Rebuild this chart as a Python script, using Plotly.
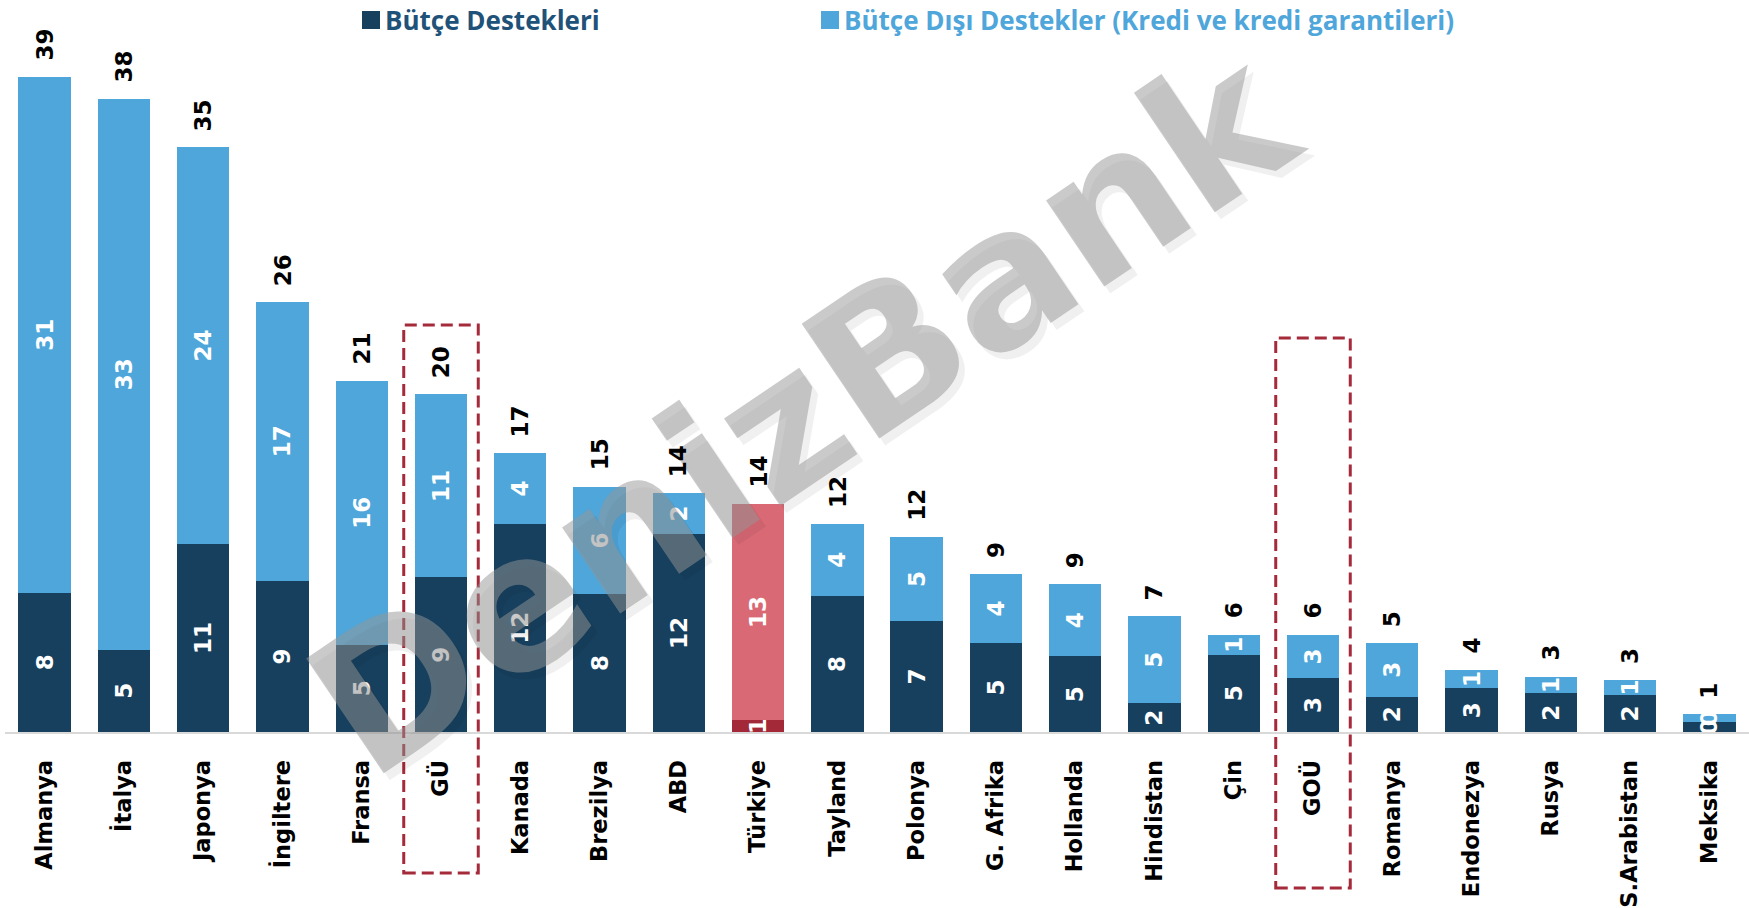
import math
import plotly.graph_objects as go

categories = ["Almanya", "İtalya", "Japonya", "İngiltere", "Fransa", "GÜ", "Kanada", "Brezilya",
              "ABD", "Türkiye", "Tayland", "Polonya", "G. Afrika", "Hollanda", "Hindistan", "Çin",
              "GOÜ", "Romanya", "Endonezya", "Rusya", "S.Arabistan", "Meksika"]
butce = [8.3, 4.9, 11.2, 9.0, 5.2, 9.2, 12.4, 8.2, 11.8, 0.7, 8.1, 6.6, 5.3, 4.5, 1.7, 4.6,
         3.2, 2.1, 2.6, 2.3, 2.2, 0.6]
butce_disi = [30.7, 32.8, 23.6, 16.6, 15.7, 10.9, 4.2, 6.4, 2.4, 12.9, 4.3, 5.0, 4.1, 4.3, 5.2, 1.2,
              2.6, 3.2, 1.1, 1.0, 0.9, 0.45]
butce_labels = ["8", "5", "11", "9", "5", "9", "12", "8", "12", "1", "8", "7", "5", "5", "2", "5",
                "3", "2", "3", "2", "2", "0"]
butce_disi_labels = ["31", "33", "24", "17", "16", "11", "4", "6", "2", "13", "4", "5", "4", "4", "5", "1",
                     "3", "3", "1", "1", "1", "0"]
toplam_labels = ["39", "38", "35", "26", "21", "20", "17", "15", "14", "14", "12", "12", "9", "9", "7", "6",
                 "6", "5", "4", "3", "3", "1"]
highlight = "Türkiye"
boxed = ["GÜ", "GOÜ"]
watermark = "DenizBank"

DARK = "#17405E"
LIGHT = "#4EA6DA"
TR_DARK = "#A32838"
TR_LIGHT = "#D96A75"

W, H = 1749, 908
base_px = 732
px_per_unit = 16.8
ymax = base_px / px_per_unit
ML = 5
PW = W - ML

def px_x(x):
    return (x - ML) / PW

def px_y(y):
    return (base_px - y) / base_px

dark_colors = [TR_DARK if c == highlight else DARK for c in categories]
light_colors = [TR_LIGHT if c == highlight else LIGHT for c in categories]

num_font = dict(family="DejaVu Sans", size=23, color="white", weight="bold")

fig = go.Figure()
fig.add_trace(go.Bar(
    x=categories, y=butce, name="Bütçe Destekleri",
    marker=dict(color=dark_colors, line=dict(width=0)),
    text=butce_labels, textposition="inside", insidetextanchor="middle",
    textangle=-90, textfont=num_font, constraintext="none", cliponaxis=False,
))
fig.add_trace(go.Bar(
    x=categories, y=butce_disi, name="Bütçe Dışı Destekler (Kredi ve kredi garantileri)",
    marker=dict(color=light_colors, line=dict(width=0)),
    text=butce_disi_labels, textposition="inside", insidetextanchor="middle",
    textangle=-90, textfont=num_font, constraintext="none", cliponaxis=False,
))

annotations = []
shapes = []

# watermark, letter by letter along a rising diagonal
adv = {"D": 0.830, "e": 0.678, "n": 0.712, "i": 0.343, "z": 0.582, "B": 0.762,
       "a": 0.675, "k": 0.665}
wm_size = 190
wm_angle = 34.0
wm_cx, wm_cy = 802, 412
total = sum(adv[ch] for ch in watermark) * wm_size
ca, sa = math.cos(math.radians(wm_angle)), math.sin(math.radians(wm_angle))
pos = -total / 2
for ch in watermark:
    w = adv[ch] * wm_size
    d = pos + w / 2
    pos += w
    cx = wm_cx + d * ca
    cy = wm_cy - d * sa
    for dx, dy, col in ((6, 7, "rgba(0,0,0,0.06)"), (0, 0, "rgba(150,150,150,0.5)")):
        annotations.append(dict(
            x=px_x(cx + dx), y=px_y(cy + dy), xref="paper", yref="paper",
            text=ch, showarrow=False, textangle=-wm_angle,
            xanchor="center", yanchor="middle",
            font=dict(family="DejaVu Sans", size=wm_size, color=col, weight="bold"),
        ))

for c, a, b, t in zip(categories, butce, butce_disi, toplam_labels):
    annotations.append(dict(
        x=c, y=a + b, xref="x", yref="y", text=t, showarrow=False, textangle=-90,
        yanchor="bottom", xanchor="center", yshift=14,
        font=dict(family="DejaVu Sans", size=23, color="black", weight="bold"),
    ))

# legend (as text + swatches)
legend_items = [
    ("Bütçe Destekleri", DARK, "#1F5279", 362),
    ("Bütçe Dışı Destekler (Kredi ve kredi garantileri)", LIGHT, LIGHT, 821),
]
for label, sw, tc, x0 in legend_items:
    shapes.append(dict(type="rect", xref="paper", yref="paper",
                       x0=px_x(x0), x1=px_x(x0 + 18),
                       y0=px_y(29), y1=px_y(11),
                       fillcolor=sw, line=dict(width=0)))
    annotations.append(dict(
        x=px_x(x0 + 21), y=px_y(20), xref="paper", yref="paper",
        text=label, showarrow=False, xanchor="left", yanchor="middle",
        font=dict(family="Open Sans", size=26, color=tc, weight="bold"),
    ))

# dashed highlight boxes
box_ext = {"GÜ": (325, 873), "GOÜ": (338, 888)}
for c in boxed:
    i = categories.index(c)
    top, bot = box_ext[c]
    shapes.append(dict(type="rect", xref="x", yref="paper",
                       x0=i - 0.47, x1=i + 0.47,
                       y0=px_y(bot), y1=px_y(top),
                       line=dict(color="#A52A3A", width=3, dash="12px,6px"),
                       fillcolor="rgba(0,0,0,0)", layer="above"))

fig.update_layout(
    width=W, height=H,
    barmode="stack", bargap=0.34,
    plot_bgcolor="white", paper_bgcolor="white",
    margin=dict(l=ML, r=0, t=0, b=H - base_px),
    showlegend=False,
    annotations=annotations, shapes=shapes,
    xaxis=dict(
        type="category", range=[-0.5, len(categories) - 0.5],
        showline=True, linecolor="#D9D9D9", linewidth=2,
        ticks="outside", ticklen=17, tickcolor="rgba(0,0,0,0)",
        tickangle=-90, showgrid=False, automargin=False,
        tickfont=dict(family="DejaVu Sans", size=22.5, color="black", weight="bold"),
    ),
    yaxis=dict(visible=False, range=[0, ymax], showgrid=False, zeroline=False, automargin=False),
)

fig.write_html("out.html", config={"displayModeBar": False},
               post_script="document.body.style.margin='0';document.body.style.overflow='hidden';")
